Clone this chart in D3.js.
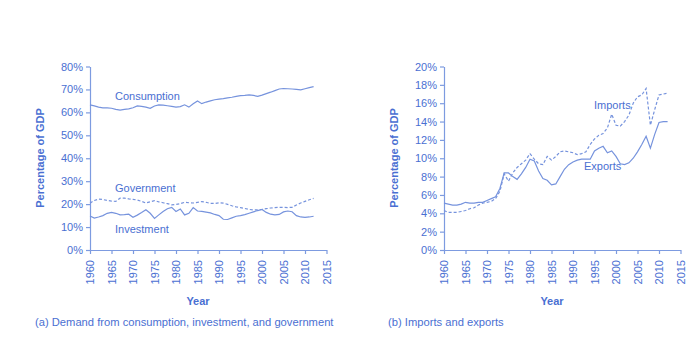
<!DOCTYPE html>
<html>
<head>
<meta charset="utf-8">
<script src="https://cdn.jsdelivr.net/npm/d3@7"></script>
<style>
  body { margin: 0; background: #fff; }
  svg { display: block; font-family: "Liberation Sans", Arial, sans-serif; }
  .axis path, .axis line { stroke: #7d9be0; stroke-width: 1.2; }
  .axis text { fill: #4a6fd2; font-size: 11px; }
</style>
</head>
<body>
<svg id="chart" width="698" height="347"></svg>
<script>
const years = [1960, 1961, 1962, 1963, 1964, 1965, 1966, 1967, 1968, 1969,
  1970, 1971, 1972, 1973, 1974, 1975, 1976, 1977, 1978, 1979,
  1980, 1981, 1982, 1983, 1984, 1985, 1986, 1987, 1988, 1989,
  1990, 1991, 1992, 1993, 1994, 1995, 1996, 1997, 1998, 1999,
  2000, 2001, 2002, 2003, 2004, 2005, 2006, 2007, 2008, 2009,
  2010, 2011, 2012];
const yearTicks = [1960, 1965, 1970, 1975, 1980, 1985, 1990, 1995, 2000, 2005, 2010, 2015];

// panel (a)
const consumption = [63.3, 62.8, 62.3, 62.0, 62.0, 61.8, 61.3, 61.0, 61.3, 61.5,
  62.0, 62.8, 62.6, 62.3, 61.8, 62.8, 63.3, 63.2, 62.9, 62.6,
  62.3, 62.5, 63.3, 62.3, 63.8, 65.0, 63.8, 64.5, 65.0, 65.5,
  65.8, 66.0, 66.3, 66.6, 67.0, 67.3, 67.4, 67.6, 67.4, 67.0,
  67.5, 68.2, 68.8, 69.5, 70.2, 70.4, 70.3, 70.2, 70.0, 69.8,
  70.3, 70.8, 71.2];
const government = [20.4, 21.6, 22.2, 22.0, 21.6, 21.3, 21.2, 22.6, 22.6, 22.3,
  22.1, 21.8, 21.2, 20.5, 21.0, 21.5, 21.0, 20.6, 20.2, 19.7,
  19.9, 20.2, 20.8, 20.6, 20.5, 20.8, 21.1, 20.8, 20.3, 20.3,
  20.6, 20.4, 19.9, 19.3, 18.8, 18.5, 18.1, 17.7, 17.5, 17.5,
  17.7, 18.0, 18.3, 18.5, 18.6, 18.6, 18.5, 18.6, 19.6, 20.5,
  21.2, 21.9, 22.5];
const investment = [14.8, 13.9, 14.4, 15.0, 16.0, 16.4, 16.0, 15.3, 15.4, 15.6,
  14.3, 15.2, 16.3, 17.5, 16.0, 13.8, 15.3, 16.8, 18.0, 18.6,
  16.8, 17.9, 15.3, 16.0, 18.5, 17.0, 16.8, 16.5, 16.2, 15.5,
  15.0, 13.4, 13.3, 14.0, 14.7, 15.0, 15.4, 16.0, 16.6, 17.2,
  17.7, 16.4, 15.6, 15.3, 15.5, 16.6, 17.0, 16.7, 15.0, 14.4,
  14.2, 14.4, 14.7];

// panel (b)
const exportsShare = [5.1, 5.0, 4.9, 4.9, 5.0, 5.2, 5.1, 5.1, 5.2, 5.2,
  5.4, 5.6, 5.8, 6.7, 8.4, 8.4, 8.0, 7.7, 8.3, 9.0,
  9.9, 9.7, 8.6, 7.8, 7.6, 7.1, 7.2, 8.0, 8.8, 9.3,
  9.6, 9.8, 9.9, 9.9, 9.9, 10.8, 11.1, 11.3, 10.6, 10.8,
  10.2, 9.4, 9.3, 9.5, 10.0, 10.7, 11.5, 12.4, 11.1, 12.6,
  13.9, 14.0, 14.0];
const importsShare = [4.3, 4.1, 4.1, 4.1, 4.2, 4.3, 4.5, 4.6, 4.9, 5.1,
  5.2, 5.3, 5.6, 6.4, 8.3, 7.5, 8.4, 9.0, 9.4, 9.8,
  10.5, 9.9, 9.4, 9.3, 10.2, 9.8, 10.2, 10.7, 10.8, 10.7,
  10.6, 10.4, 10.5, 10.7, 11.5, 12.1, 12.5, 12.7, 13.3, 14.8,
  13.6, 13.5, 14.0, 14.7, 16.0, 16.7, 16.9, 17.6, 13.6, 15.3,
  16.9, 17.0, 17.1];

const pctTicksA = [0, 10, 20, 30, 40, 50, 60, 70, 80];
const pctTicksB = [0, 2, 4, 6, 8, 10, 12, 14, 16, 18, 20];

const textColor = '#4a6fd2';
const lineColor = '#7693dd';

const svg = d3.select('#chart');

function drawPanel(opts) {
  const x = d3.scaleLinear().domain([1960, 2015]).range([opts.left, opts.left + 236.5]);
  const y = d3.scaleLinear().domain(opts.yDomain).range([250, 66.5]);
  const g = svg.append('g');

  g.append('g')
    .attr('class', 'axis')
    .attr('transform', `translate(${opts.left},0)`)
    .call(d3.axisLeft(y).tickValues(opts.yTicks).tickSize(4).tickSizeOuter(0).tickFormat(d => d + '%'))
    .selectAll('text')
    .attr('x', -7);

  g.append('g')
    .attr('class', 'axis')
    .attr('transform', 'translate(0,250)')
    .call(d3.axisBottom(x).tickValues(yearTicks).tickSize(4).tickSizeOuter(0).tickFormat(d3.format('d')))
    .selectAll('text')
    .attr('transform', 'rotate(-90)')
    .attr('text-anchor', 'end')
    .attr('x', -10)
    .attr('y', 0)
    .attr('dy', '0.35em');

  const line = d3.line().x((d, i) => x(years[i])).y(d => y(d));

  opts.series.forEach(s => {
    g.append('path')
      .datum(s.values)
      .attr('d', line)
      .attr('fill', 'none')
      .attr('stroke', lineColor)
      .attr('stroke-width', 1.2)
      .attr('stroke-dasharray', s.dashed ? '3,2' : null);
  });

  opts.labels.forEach(l => {
    g.append('text')
      .attr('x', l.x)
      .attr('y', l.y)
      .attr('fill', textColor)
      .style('font-size', '11px')
      .text(l.text);
  });

  g.append('text')
    .attr('transform', `translate(${opts.left - 46},158) rotate(-90)`)
    .attr('text-anchor', 'middle')
    .attr('fill', textColor)
    .style('font-size', '11px')
    .style('font-weight', 'bold')
    .text('Percentage of GDP');

  g.append('text')
    .attr('x', opts.left + 108)
    .attr('y', 305)
    .attr('text-anchor', 'middle')
    .attr('fill', textColor)
    .style('font-size', '11px')
    .style('font-weight', 'bold')
    .text('Year');

  g.append('text')
    .attr('x', opts.captionX)
    .attr('y', 326)
    .attr('fill', textColor)
    .style('font-size', '11.2px')
    .text(opts.caption);
}

drawPanel({
  left: 90,
  yDomain: [0, 80],
  yTicks: pctTicksA,
  series: [
    { values: consumption },
    { values: government, dashed: true },
    { values: investment }
  ],
  labels: [
    { text: 'Consumption', x: 115, y: 100 },
    { text: 'Government', x: 115, y: 192 },
    { text: 'Investment', x: 115, y: 233 }
  ],
  captionX: 35,
  caption: '(a) Demand from consumption, investment, and government'
});

drawPanel({
  left: 444,
  yDomain: [0, 20],
  yTicks: pctTicksB,
  series: [
    { values: exportsShare },
    { values: importsShare, dashed: true }
  ],
  labels: [
    { text: 'Imports', x: 594, y: 109 },
    { text: 'Exports', x: 584, y: 170 }
  ],
  captionX: 388,
  caption: '(b) Imports and exports'
});
</script>
</body>
</html>
